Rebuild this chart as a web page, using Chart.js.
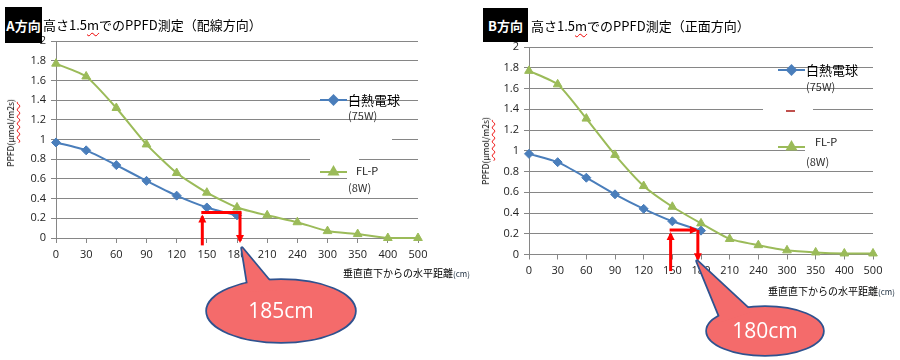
<!DOCTYPE html>
<html lang="ja">
<head>
<meta charset="UTF-8">
<title>PPFD測定</title>
<script src="https://cdn.jsdelivr.net/npm/chart.js"></script>
<style>
  body { margin:0; background:#fff; width:900px; height:360px; position:relative; overflow:hidden;
         font-family:"Noto Sans CJK JP","Noto Sans",sans-serif; }
  .panel { position:absolute; top:0; width:450px; height:360px; }
  .tag { position:absolute; background:#000; color:#fff; font-weight:bold; font-size:13px;
         display:flex; align-items:center; justify-content:center; z-index:2; }
  .title { position:absolute; font-size:13px; color:#000; white-space:nowrap; z-index:2; line-height:16px; }
  .squig { text-decoration:underline wavy #e00; text-decoration-thickness:1px; text-underline-offset:2px; }
  .ytitle { position:absolute; font-size:8.5px; transform:translate(-50%,-50%) rotate(-90deg);
            white-space:nowrap; z-index:2; color:#000; }
  .xtitle { position:absolute; font-size:10px; white-space:nowrap; z-index:2; color:#000; line-height:12px; }
  .xtitle small { font-size:8px; color:#234; }
</style>
</head>
<body>
<div class="panel" style="left:0"><canvas id="grafico_a" width="450" height="360"></canvas></div>
<div class="panel" style="left:450px"><canvas id="grafico_b" width="450" height="360"></canvas></div>

<div class="tag" style="left:5px;top:7px;width:37px;height:36px;">A方向</div>
<div class="title" style="left:43px;top:17px;">高さ1.5<span class="squig">m</span>でのPPFD測定（配線方向）</div>
<div class="tag" style="left:483px;top:8px;width:45px;height:34px;">B方向</div>
<div class="title" style="left:531px;top:18px;">高さ1.5<span class="squig">m</span>でのPPFD測定（正面方向）</div>

<div class="ytitle" style="left:10px;top:133px;">PPFD(<span class="squig">μmol/m2s</span>)</div>
<div class="ytitle" style="left:485px;top:151px;">PPFD(<span class="squig">μmol/m2s</span>)</div>
<div class="xtitle" style="left:343px;top:267px;">垂直直下からの水平距離<small>(cm)</small></div>
<div class="xtitle" style="left:768px;top:285px;">垂直直下からの水平距離<small>(cm)</small></div>

<script>
    // 垂直直下からの水平距離 (cm)
    var distancias = ['0', '30', '60', '90', '120', '150', '180', '210', '240', '300', '350', '400', '500'];
    // A方向 (配線方向)
    var hakunetsuA = [0.97, 0.89, 0.74, 0.58, 0.43, 0.31, 0.23];
    var flpA = [1.77, 1.64, 1.32, 0.95, 0.66, 0.46, 0.31, 0.23, 0.16, 0.07, 0.04, 0, 0];
    // B方向 (正面方向)
    var hakunetsuB = [0.97, 0.89, 0.74, 0.58, 0.44, 0.32, 0.23];
    var flpB = [1.77, 1.64, 1.31, 0.96, 0.66, 0.46, 0.30, 0.15, 0.09, 0.04, 0.02, 0.01, 0.01];
    var nomeSeries = ['白熱電球', 'FL-P'];
    var yMax = 2, yPasso = 0.2;

    var azul = '#4A7EBB', verde = '#9BBB59', cinza = '#868686';

    function seta(ctx, x1, y1, x2, y2, ponta) {
        ctx.beginPath(); ctx.moveTo(x1, y1); ctx.lineTo(x2, y2); ctx.stroke();
        if (!ponta) return;
        var a = Math.atan2(y2 - y1, x2 - x1), c = Math.cos(a), s = Math.sin(a);
        ctx.beginPath();
        ctx.moveTo(x2 + 2 * c, y2 + 2 * s);
        ctx.lineTo(x2 - 6 * c + 4 * s, y2 - 6 * s - 4 * c);
        ctx.lineTo(x2 - 6 * c - 4 * s, y2 - 6 * s + 4 * c);
        ctx.closePath(); ctx.fill();
    }

    function balao(ctx, cx, cy, rx, ry, tri, texto) {
        function formas(acao) {
            ctx.beginPath(); ctx.ellipse(cx, cy, rx, ry, 0, 0, Math.PI * 2); acao();
            ctx.beginPath(); ctx.moveTo(tri[0], tri[1]); ctx.lineTo(tri[2], tri[3]); ctx.lineTo(tri[4], tri[5]); ctx.closePath(); acao();
        }
        ctx.save();
        ctx.strokeStyle = '#2F528F'; ctx.lineWidth = 3.5; ctx.lineJoin = 'round';
        formas(function () { ctx.stroke(); });
        ctx.fillStyle = '#F46B6B';
        formas(function () { ctx.fill(); });
        ctx.fillStyle = '#fff'; ctx.font = '21px "Open Sans", sans-serif';
        ctx.textAlign = 'center'; ctx.textBaseline = 'middle';
        ctx.fillText(texto, cx, cy + 1);
        ctx.restore();
    }

    function amostra(ctx, x1, x2, y, cor, estilo) {
        ctx.save();
        ctx.strokeStyle = cor; ctx.fillStyle = cor; ctx.lineWidth = 2;
        ctx.beginPath(); ctx.moveTo(x1, y); ctx.lineTo(x2, y); ctx.stroke();
        Chart.helpers.drawPoint(ctx, { pointStyle: estilo, radius: estilo === 'triangle' ? 5 : 4.5, borderWidth: 1 }, (x1 + x2) / 2, y);
        ctx.restore();
    }

    function texto(ctx, t, x, y, tam, cor) {
        ctx.fillStyle = cor || '#000';
        ctx.font = tam + 'px "Noto Sans CJK JP", "Noto Sans", sans-serif';
        ctx.textAlign = 'left'; ctx.textBaseline = 'middle';
        ctx.fillText(t, x, y);
    }

    function criarGrafico(id, azulDados, verdeDados, cfg, desenho) {
        return new Chart(id, {
            type: 'line',
            data: {
                labels: distancias,
                datasets: [{
                    label: nomeSeries[0], data: azulDados,
                    borderColor: azul, backgroundColor: azul, borderWidth: 2,
                    pointStyle: 'rectRot', pointRadius: 4.5, pointBorderWidth: 1,
                    tension: 0.2, clip: 10
                }, {
                    label: nomeSeries[1], data: verdeDados,
                    borderColor: verde, backgroundColor: verde, borderWidth: 2,
                    pointStyle: 'triangle', pointRadius: 5, pointBorderWidth: 1,
                    tension: 0.2, clip: 10
                }]
            },
            options: {
                responsive: false,
                animation: false,
                layout: { padding: { top: cfg.top, right: cfg.right, left: 0, bottom: 0 } },
                plugins: { legend: { display: false }, tooltip: { enabled: false } },
                scales: {
                    x: {
                        offset: false,
                        grid: { drawOnChartArea: false, tickLength: 5, color: cinza, offset: false },
                        border: { color: cinza },
                        ticks: { font: { family: 'Open Sans', size: 11 }, color: '#222', padding: 5, maxRotation: 0, autoSkip: false },
                        afterFit: function (s) { s.height = cfg.xAltura; }
                    },
                    y: {
                        min: 0, max: yMax,
                        grid: { color: cinza, tickLength: 5 },
                        border: { color: cinza },
                        ticks: {
                            stepSize: yPasso, padding: 5, color: '#222',
                            font: { family: 'Open Sans', size: 11 },
                            callback: function (v) { return +v.toFixed(1); }
                        },
                        afterFit: function (s) { s.width = cfg.yLargura; }
                    }
                }
            },
            plugins: [{ id: 'anotacoes_' + id, afterDraw: desenho }]
        });
    }

    // A方向
    criarGrafico('grafico_a', hakunetsuA, flpA, { top: 41, right: 32, xAltura: 122, yLargura: 56 }, function (chart) {
        var ctx = chart.ctx, x = chart.scales.x, y = chart.scales.y;
        ctx.save();
        // quebras das linhas de grade por trás das caixas de texto
        ctx.fillStyle = '#fff';
        ctx.fillRect(320, y.getPixelForValue(1) - 2, 72, 4);
        ctx.fillRect(310, y.getPixelForValue(0.8) - 2, 49, 4);
        ctx.fillRect(347, y.getPixelForValue(0.6) - 2, 71, 4);
        // legenda
        amostra(ctx, 320, 347, 100, azul, 'rectRot');
        texto(ctx, '白熱電球', 348, 100, 13);
        texto(ctx, '(75W)', 348, 116, 11, '#333');
        amostra(ctx, 320, 347, 172, verde, 'triangle');
        texto(ctx, 'FL-P', 356, 171, 11, '#222');
        texto(ctx, '(8W)', 348, 188, 11, '#333');
        // setas vermelhas
        ctx.strokeStyle = '#FF0000'; ctx.fillStyle = '#FF0000'; ctx.lineWidth = 3;
        var xa = x.getPixelForValue(4.85), xb = x.getPixelForValue(6.1), yh = y.getPixelForValue(0.26);
        seta(ctx, xa, y.getPixelForValue(-0.075), xa, yh + 4, true);
        seta(ctx, xa - 1, yh, xb + 1.5, yh, false);
        seta(ctx, xb, yh, xb, y.getPixelForValue(-0.03), true);
        ctx.restore();
        balao(ctx, 281, 311, 74, 31, [242, 248, 249, 292, 277, 290], '185cm');
    });

    // B方向
    criarGrafico('grafico_b', hakunetsuB, flpB, { top: 47, right: 27, xAltura: 105.5, yLargura: 79 }, function (chart) {
        var ctx = chart.ctx, x = chart.scales.x, y = chart.scales.y;
        ctx.save();
        ctx.fillStyle = '#fff';
        ctx.fillRect(313, y.getPixelForValue(1.4) - 2, 50, 4);
        ctx.fillRect(355, y.getPixelForValue(1) - 2, 68, 4);
        amostra(ctx, 328, 355, 70, azul, 'rectRot');
        texto(ctx, '白熱電球', 356, 70, 13);
        texto(ctx, '(75W)', 356, 87, 11, '#333');
        ctx.fillStyle = '#C0504D';
        ctx.fillRect(336, 110, 9, 2);
        amostra(ctx, 328, 355, 147, verde, 'triangle');
        texto(ctx, 'FL-P', 365, 142, 11, '#222');
        texto(ctx, '(8W)', 356, 162, 11, '#333');
        ctx.strokeStyle = '#FF0000'; ctx.fillStyle = '#FF0000'; ctx.lineWidth = 3;
        var xa = x.getPixelForValue(4.94), xb = x.getPixelForValue(5.89), yh = y.getPixelForValue(0.236);
        seta(ctx, xa, y.getPixelForValue(-0.16), xa, yh + 4, true);
        seta(ctx, xa - 1, yh, xb - 2, yh, true);
        seta(ctx, xb, yh, xb, y.getPixelForValue(-0.045), true);
        ctx.restore();
        balao(ctx, 315, 331, 58, 24, [247, 261, 272, 322, 302, 312], '180cm');
    });
</script>
</body>
</html>
